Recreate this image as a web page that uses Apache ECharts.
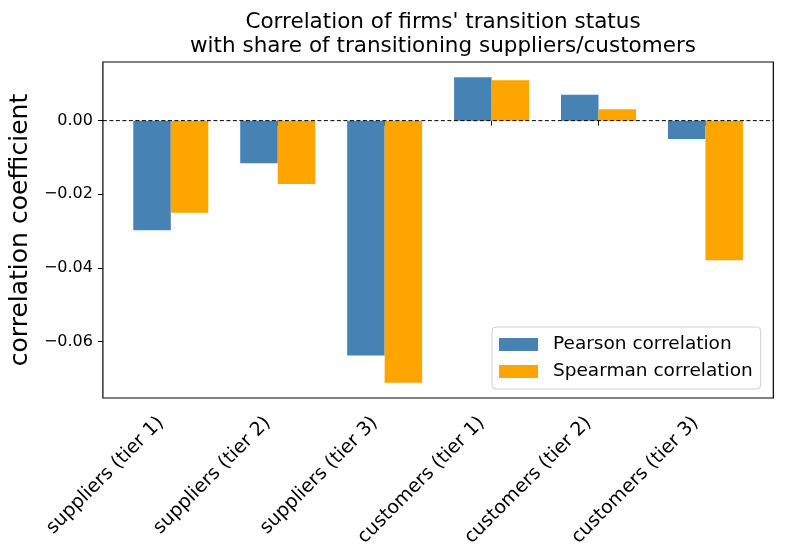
<!DOCTYPE html>
<html>
<head>
<meta charset="utf-8">
<script src="https://cdn.jsdelivr.net/npm/echarts@6/dist/echarts.min.js"></script>
<style>
html,body{margin:0;padding:0;background:#fff;}
#c{width:785px;height:554px;}
</style>
</head>
<body>
<div id="c"></div>
<script>
const categories = ['suppliers (tier 1)', 'suppliers (tier 2)', 'suppliers (tier 3)', 'customers (tier 1)', 'customers (tier 2)', 'customers (tier 3)'];
const pearson = [-0.0298, -0.0116, -0.0638, 0.0118, 0.0070, -0.0050];
const spearman = [-0.0250, -0.0172, -0.0712, 0.0110, 0.0031, -0.0379];
const yTicks = [-0.06, -0.04, -0.02, 0.00];
const yMin = -0.07535, yMax = 0.01593;

const FONT = 'DejaVu Sans';
const chart = echarts.init(document.getElementById('c'), null, {renderer: 'canvas'});

function fmt(v) {
  if (Math.abs(v) < 1e-9) return '0.00';
  return (v < 0 ? '\u2212' : '') + Math.abs(v).toFixed(2);
}

chart.setOption({
  animation: false,
  backgroundColor: '#fff',
  title: {
    text: "Correlation of firms' transition status\nwith share of transitioning suppliers/customers",
    left: 438, top: 5, textAlign: 'center',
    textStyle: {fontFamily: FONT, fontSize: 21.5, fontWeight: 'normal', color: '#000', lineHeight: 24}
  },
  legend: {
    data: ['Pearson correlation', 'Spearman correlation'],
    orient: 'vertical', left: 492, top: 327,
    icon: 'rect', itemWidth: 39, itemHeight: 13, itemGap: 8,
    padding: [8, 8, 8, 7],
    borderColor: '#cfcfcf', borderWidth: 1, borderRadius: 4,
    backgroundColor: 'rgba(255,255,255,0.8)',
    textStyle: {fontFamily: FONT, fontSize: 18.5, color: '#000', padding: [0, 0, 0, 10]}
  },
  grid: {left: 115.4, right: 26.1, top: 62, bottom: 156, containLabel: false},
  xAxis: {
    type: 'category', data: categories,
    axisLine: {show: false},
    axisTick: {show: true, alignWithLabel: true, interval: 0, length: 5, lineStyle: {color: '#000'}},
    axisLabel: {interval: 0, rotate: 45, fontFamily: FONT, fontSize: 19, color: '#000', margin: 12,
                padding: [0, 14, 0, 0]},
    splitLine: {show: false}
  },
  yAxis: {
    type: 'value', min: yMin, max: yMax, offset: 14.4,
    name: 'correlation coefficient', nameLocation: 'middle', nameGap: 62,
    nameTextStyle: {fontFamily: FONT, fontSize: 25, color: '#000'},
    axisLine: {show: false},
    axisTick: {show: true, length: 5, customValues: yTicks, lineStyle: {color: '#000'}},
    axisLabel: {customValues: yTicks, formatter: fmt, fontFamily: FONT, fontSize: 16, color: '#000', margin: 10},
    splitLine: {show: false}
  },
  series: [
    {name: 'Pearson correlation', type: 'bar', data: pearson, barWidth: 37.5, barGap: '0%',
     itemStyle: {color: '#4682B4'}},
    {name: 'Spearman correlation', type: 'bar', data: spearman, barWidth: 37.5, barGap: '0%',
     itemStyle: {color: '#FFA500'}}
  ]
});

// frame & zero reference line, positioned through the axes' own scales
const x0 = chart.convertToPixel({xAxisIndex: 0}, 0);
const x1 = chart.convertToPixel({xAxisIndex: 0}, 1);
const xn = chart.convertToPixel({xAxisIndex: 0}, categories.length - 1);
const band = x1 - x0;
const fl = x0 - 0.635 * band, fr = xn + 0.635 * band;
const ft = chart.convertToPixel({yAxisIndex: 0}, yMax);
const fb = chart.convertToPixel({yAxisIndex: 0}, yMin);
const yz = chart.convertToPixel({yAxisIndex: 0}, 0);

chart.setOption({
  graphic: [
    {type: 'line', z: 5, shape: {x1: fl, y1: yz, x2: fr, y2: yz},
     style: {stroke: '#000', lineWidth: 1, lineDash: [4, 2.5]}},
    {type: 'rect', z: 6, shape: {x: fl, y: ft, width: fr - fl, height: fb - ft},
     style: {fill: null, stroke: '#000', lineWidth: 1.2}}
  ]
});
</script>
</body>
</html>
